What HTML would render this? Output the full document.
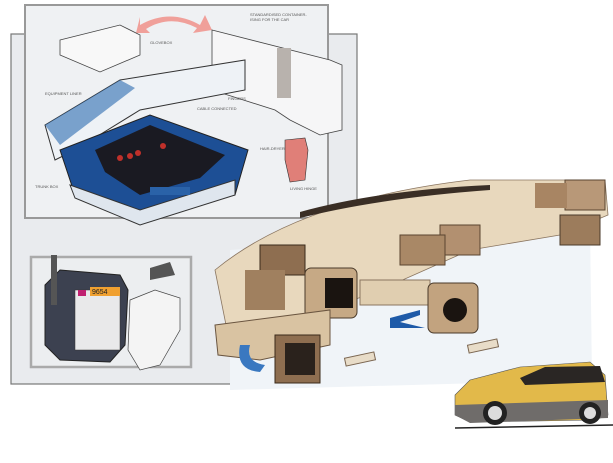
<!DOCTYPE html>
<html><head><meta charset="utf-8"><style>
html,body{margin:0;padding:0;background:#fff;width:613px;height:463px;overflow:hidden}
svg{display:block}
text{font-family:"Liberation Sans",sans-serif;font-size:4px;fill:#555}
</style></head><body>
<svg width="613" height="463" viewBox="0 0 613 463" xmlns="http://www.w3.org/2000/svg">
<rect x="11" y="34" width="346" height="350" fill="#e9ebee" stroke="#777" stroke-width="1.2"/>
<rect x="25" y="5" width="303" height="213" fill="#eff1f3" stroke="#999" stroke-width="2"/>
<path d="M140 25 Q170 8 200 25 L205 15 L212 30 L193 33 L197 28 Q170 14 146 29 L150 33 L136 33 L140 17 Z" fill="#f0a09a"/>
<path d="M60 40 L120 25 L140 35 L140 55 L100 72 L60 55 Z" fill="#f8f8f8" stroke="#444" stroke-width="0.8"/>
<path d="M212 30 L330 60 L342 65 L342 130 L320 135 L290 120 L275 110 L212 90 Z" fill="#f6f6f7" stroke="#444" stroke-width="0.8"/>
<rect x="277" y="48" width="14" height="50" fill="#b8b2ad"/>
<path d="M45 125 L120 80 L245 60 L245 90 L140 110 L75 150 L55 160 Z" fill="#eef2f6" stroke="#333"/>
<path d="M45 125 L120 80 L135 88 L60 145 Z" fill="#2b6bb0" opacity="0.6"/>
<path d="M60 150 L150 115 L248 150 L235 195 L140 218 L75 195 Z" fill="#1d4f95" stroke="#222"/>
<path d="M95 150 L150 125 L225 155 L200 178 L140 195 L105 172 Z" fill="#1a1a22"/>
<circle cx="120" cy="158" r="3" fill="#c0302a"/><circle cx="130" cy="156" r="3" fill="#c0302a"/><circle cx="138" cy="153" r="3" fill="#c0302a"/><circle cx="163" cy="146" r="3" fill="#c0302a"/>
<path d="M70 185 L140 210 L235 180 L235 195 L140 225 L75 198 Z" fill="#dfe6ee" stroke="#333"/>
<rect x="150" y="187" width="40" height="8" fill="#2a62a8"/>
<path d="M285 140 L305 138 L308 150 L305 180 L290 182 L285 160 Z" fill="#e07f78" stroke="#333" stroke-width="0.6"/>
<text x="250" y="16">STANDARDISED CONTAINER-</text>
<text x="250" y="21">ISING FOR THE CAR</text>
<text x="150" y="44">GLOVEBOX</text>
<text x="45" y="95">EQUIPMENT LINER</text>
<text x="228" y="100">FINGERS</text>
<text x="197" y="110">CABLE CONNECTED</text>
<text x="260" y="150">HAIR-DRYER</text>
<text x="35" y="188">TRUNK BOX</text>
<text x="290" y="190">LIVING HINGE</text>
<rect x="31" y="257" width="160" height="110" fill="#eceef0" stroke="#aaa" stroke-width="2.5"/>
<path d="M45 285 L60 270 L120 275 L128 290 L125 345 L110 362 L60 360 L45 345 Z" fill="#3c4150" stroke="#222"/>
<rect x="75" y="290" width="45" height="60" fill="#e9e9ea" stroke="#333" stroke-width="0.5"/>
<rect x="90" y="287" width="30" height="9" fill="#f0a030"/>
<text x="92" y="294" style="font-size:7px;fill:#222">9654</text>
<rect x="78" y="290" width="8" height="6" fill="#c02070"/>
<rect x="51" y="255" width="6" height="50" fill="#555"/>
<path d="M130 300 L155 290 L180 298 L180 330 L160 365 L140 370 L128 350 Z" fill="#f4f4f4" stroke="#444" stroke-width="0.7"/>
<path d="M150 268 L170 262 L175 275 L150 280 Z" fill="#555"/>
<path d="M230 250 L590 225 L592 380 L230 390 Z" fill="#f0f4f8"/>
<path d="M215 270 Q300 200 470 180 L605 180 L608 215 L560 235 L470 250 L380 290 L300 320 L240 335 L230 345 Z" fill="#e8d8bd" stroke="#8a7560" stroke-width="0.8"/>
<path d="M300 212 Q380 190 490 185 L490 190 Q380 198 300 218 Z" fill="#3a2e25"/>
<rect x="565" y="180" width="40" height="30" fill="#b89878" stroke="#5a4530"/>
<rect x="535" y="183" width="32" height="25" fill="#a88563"/>
<rect x="560" y="215" width="40" height="30" fill="#9c7c5c" stroke="#4a3a2a"/>
<rect x="440" y="225" width="40" height="30" fill="#b29070" stroke="#5a4530"/>
<rect x="400" y="235" width="45" height="30" fill="#a98866" stroke="#5a4530"/>
<rect x="260" y="245" width="45" height="30" fill="#8e6e50" stroke="#3a2a1a"/>
<rect x="245" y="270" width="40" height="40" fill="#a0805f"/>
<rect x="305" y="268" width="52" height="50" rx="6" fill="#c6a985" stroke="#4a3a2a"/>
<rect x="325" y="278" width="28" height="30" fill="#1a1410"/>
<rect x="360" y="280" width="70" height="25" fill="#e0ceb0" stroke="#8a7560"/>
<rect x="428" y="283" width="50" height="50" rx="6" fill="#c2a37f" stroke="#4a3a2a"/>
<circle cx="455" cy="310" r="12" fill="#1a1410"/>
<path d="M215 325 L330 310 L330 345 L260 360 L218 355 Z" fill="#d9c3a2" stroke="#6a5540"/>
<rect x="275" y="335" width="45" height="48" fill="#8e6e50" stroke="#3a2a1a"/>
<rect x="285" y="343" width="30" height="32" fill="#2a221c"/>
<path d="M240 345 Q235 370 260 372 L265 365 Q245 362 250 345 Z" fill="#3a78c0"/>
<path d="M390 318 L420 310 L420 315 L400 322 L425 328 L390 328 Z" fill="#1e5aa8"/>
<rect x="345" y="355" width="30" height="8" fill="#e8dcc8" stroke="#7a6550" transform="rotate(-12 360 359)"/>
<rect x="468" y="342" width="30" height="8" fill="#e8dcc8" stroke="#7a6550" transform="rotate(-12 483 346)"/>
<path d="M455 395 L470 380 L520 367 L590 362 L605 375 L608 415 L595 420 L470 422 L455 415 Z" fill="#e2b94a" stroke="#555" stroke-width="0.6"/>
<path d="M455 405 L608 400 L608 418 L470 423 L455 415 Z" fill="#6f6c6a"/>
<path d="M520 378 L545 367 L600 366 L605 382 L525 385 Z" fill="#2a2624"/>
<circle cx="495" cy="413" r="12" fill="#222"/><circle cx="495" cy="413" r="7" fill="#ddd"/>
<circle cx="590" cy="413" r="11" fill="#222"/><circle cx="590" cy="413" r="6" fill="#ddd"/>
<line x1="455" y1="428" x2="613" y2="425" stroke="#222" stroke-width="1.5"/>
</svg>
</body></html>
